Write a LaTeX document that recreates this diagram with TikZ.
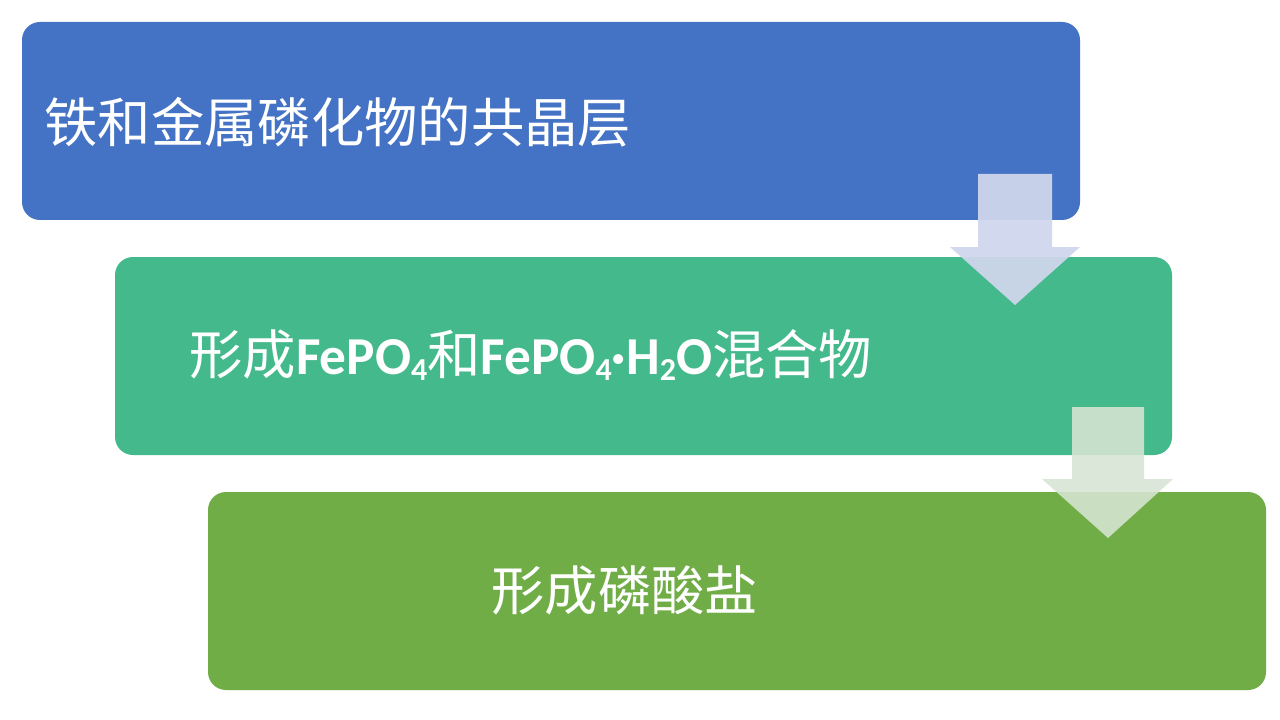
\documentclass[tikz,border=0pt]{standalone}
\usepackage{fontspec}
\setmainfont{Carlito}
\newfontfamily\cjk{Noto Sans CJK SC}
\tikzset{every picture/.style={line width=0.75pt}}
\tikzset{
	steptext/.style={anchor=west, inner sep=0pt, text=white, font=\fontsize{40}{48}\selectfont\cjk},
	stepbox/.style={draw opacity=0, rounded corners=13.5pt, fill opacity=1}}
\definecolor{boxblue}{RGB}{68,114,196}
\definecolor{boxteal}{RGB}{67,185,140}
\definecolor{boxgreen}{RGB}{112,173,71}
\definecolor{arrowblue}{RGB}{208,214,236}
\definecolor{arrowgreen}{RGB}{215,229,212}
\newcommand{\chem}[1]{{\fontspec{Carlito}\bfseries #1}}
\newcommand{\sub}[1]{\raisebox{-0.1em}{\fontsize{24}{24}\selectfont #1}}

\begin{document}
\begin{tikzpicture}[x=0.75pt,y=0.75pt,yscale=-1,xscale=1]
	\useasboundingbox (0,0) rectangle (1280,720);
	\fill [white] (0,0) rectangle (1280,720);

	%Shape: Rounded Rectangle [id:boxIron]
	\draw [stepbox, fill=boxblue] (22,22) rectangle (1080,220);
	%Shape: Rounded Rectangle [id:boxMix]
	\draw [stepbox, fill=boxteal] (115,257) rectangle (1172,455);
	%Shape: Rounded Rectangle [id:boxSalt]
	\draw [stepbox, fill=boxgreen] (208,492) rectangle (1266,690);

	%Shape: Down Arrow [id:arrowOne]
	\draw [draw opacity=0, fill=arrowblue, fill opacity=0.94] (978,174) -- (1052,174) -- (1052,247) -- (1080,247) -- (1015,305) -- (950,247) -- (978,247) -- cycle ;
	%Shape: Down Arrow [id:arrowTwo]
	\draw [draw opacity=0, fill=arrowgreen, fill opacity=0.88] (1072,407) -- (1144,407) -- (1144,479) -- (1173,479) -- (1108,538) -- (1042,479) -- (1072,479) -- cycle ;

	% Text Node
	\node [steptext] (iron) at (44,122) {铁和金属磷化物的共晶层};
	% Text Node
	\node [steptext] (mix) at (189,355) {形成\chem{FePO\sub{4}}和\chem{FePO\sub{4}·H\sub{2}O}混合物};
	% Text Node
	\node [steptext] (salt) at (491,590) {形成磷酸盐};

\end{tikzpicture}
\end{document}
